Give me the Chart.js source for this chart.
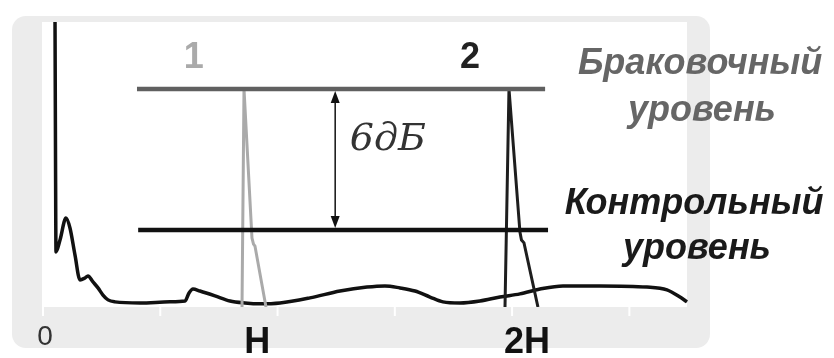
<!DOCTYPE html>
<html>
<head>
<meta charset="utf-8">
<script src="https://cdn.jsdelivr.net/npm/chart.js@4"></script>
<style>
  body { margin: 0; background: #fff; }
</style>
</head>
<body>
<canvas id="scan" width="834" height="358"></canvas>
<script>
// A-scan curve (x: time base units, y: amplitude %)
const scanX = [2.22, 2.30, 2.39, 3.07, 4.09, 4.77, 5.63, 6.48, 7.33, 7.84, 8.70, 9.55, 10.40, 11.26, 12.45,
               16.71, 21.83, 24.39, 25.07, 25.75, 26.94, 29.50, 32.06, 34.62, 37.18, 40.59, 45.70, 50.82,
               55.42, 58.49, 61.05, 63.61, 66.17, 68.38, 71.28, 74.69, 78.10, 81.51, 84.92, 88.85, 95.16,
               103.17, 106.58, 108.80, 110];
const scanY = [100, 55.1, 19.3, 23.5, 31.2, 27.7, 18.2, 9.5, 10.2, 10.9, 8.8, 6.7, 4.2, 2.5, 1.8,
               1.4, 1.8, 2.1, 4.9, 6.3, 5.6, 3.9, 2.1, 1.4, 1.1, 1.4, 3.2, 5.6,
               7.0, 7.4, 6.7, 5.6, 3.5, 1.8, 1.4, 2.1, 3.5, 4.6, 6.3, 7.4, 7.4,
               7.0, 6.0, 3.5, 1.8];

// echo 1 (at H) and echo 2 (at 2H)
const echo1X = [34.11, 34.45, 35.81, 36.07, 36.32, 38.20];
const echo1Y = [0, 76.5, 24.2, 22.1, 21.4, 0];
const echo2X = [78.96, 79.64, 81.51, 81.77, 82.20, 84.58];
const echo2Y = [0, 76.5, 26.3, 23.5, 22.5, 0];

// levels
const rejectLevel = 76.5;
const controlLevel = 27.0;
const rejectSpan = [16.2, 85.8];
const controlSpan = [16.4, 86.3];
const gapX = 50;       // 6 dB arrow position

// bottom tick labels
const tickLabels = ['0', 'H', '2H'];
const tickLabelX = [0.5, 36.7, 82.7];
const gridTicks = [0, 20, 40, 60, 80, 100];

function pts(xs, ys) {
  return xs.map((x, i) => ({ x: x, y: ys[i] }));
}

const panelPlugin = {
  id: 'panel',
  beforeDraw(chart) {
    const c = chart.ctx, a = chart.chartArea;
    c.save();
    c.fillStyle = '#ffffff';
    c.fillRect(0, 0, chart.width, chart.height);
    c.fillStyle = '#ececec';
    c.beginPath();
    c.roundRect(12, 16, 698, 332, 14);
    c.fill();
    c.fillStyle = '#ffffff';
    c.fillRect(a.left, a.top, a.right - a.left, a.bottom - a.top);
    // short white ticks under the baseline
    c.strokeStyle = '#ffffff';
    c.lineWidth = 2;
    gridTicks.forEach(v => {
      const px = chart.scales.x.getPixelForValue(v) + 1;
      c.beginPath();
      c.moveTo(px, a.bottom);
      c.lineTo(px, a.bottom + 9);
      c.stroke();
    });
    c.restore();
  },
  afterDraw(chart) {
    const c = chart.ctx, xs = chart.scales.x, ys = chart.scales.y;
    c.save();
    // double arrow between the levels
    const ax = xs.getPixelForValue(gapX);
    const yTop = ys.getPixelForValue(rejectLevel) + 2;
    const yBot = ys.getPixelForValue(controlLevel) - 2;
    c.strokeStyle = '#111';
    c.fillStyle = '#111';
    c.lineWidth = 1.5;
    c.beginPath();
    c.moveTo(ax, yTop + 8);
    c.lineTo(ax, yBot - 8);
    c.stroke();
    c.beginPath();
    c.moveTo(ax, yTop); c.lineTo(ax - 4.5, yTop + 12); c.lineTo(ax + 4.5, yTop + 12); c.closePath();
    c.fill();
    c.beginPath();
    c.moveTo(ax, yBot); c.lineTo(ax - 4.5, yBot - 12); c.lineTo(ax + 4.5, yBot - 12); c.closePath();
    c.fill();

    // 6 dB label
    c.fillStyle = '#333';
    c.font = 'italic 38px "DejaVu Serif", "Liberation Serif", serif';
    c.textAlign = 'left';
    c.textBaseline = 'middle';
    c.fillText('6дБ', xs.getPixelForValue(52.5), ys.getPixelForValue(58.6));

    // echo numbers
    c.textAlign = 'center';
    c.font = 'bold 36px "Liberation Sans", Arial, sans-serif';
    c.fillStyle = '#aaaaaa';
    c.fillText('1', xs.getPixelForValue(25.9), ys.getPixelForValue(87.4));
    c.fillStyle = '#222';
    c.fillText('2', xs.getPixelForValue(73.0), ys.getPixelForValue(87.4));

    // level names on the right
    c.font = 'italic bold 36px "Liberation Sans", Arial, sans-serif';
    const ry = ys.getPixelForValue(rejectLevel);
    const cy = ys.getPixelForValue(controlLevel);
    c.fillStyle = '#666';
    c.fillText('Браковочный', 700, ry - 25);
    c.fillText('уровень', 702, ry + 22);
    c.fillStyle = '#1a1a1a';
    c.fillText('Контрольный', 694, cy - 26);
    c.fillText('уровень', 697, cy + 19);

    // bottom labels
    c.textBaseline = 'alphabetic';
    tickLabels.forEach((t, i) => {
      const px = xs.getPixelForValue(tickLabelX[i]);
      if (t === '0') {
        c.font = '28px "Liberation Sans", Arial, sans-serif';
        c.fillStyle = '#333';
        c.fillText(t, px, 345);
      } else {
        c.font = 'bold 36px "Liberation Sans", Arial, sans-serif';
        c.fillStyle = '#111';
        c.fillText(t, px, 353);
      }
    });
    c.restore();
  }
};

new Chart(document.getElementById('scan'), {
  type: 'scatter',
  data: {
    datasets: [
      {
        data: pts(rejectSpan, [rejectLevel, rejectLevel]),
        showLine: true, borderColor: '#606060', borderWidth: 4.5, pointRadius: 0
      },
      {
        data: pts(controlSpan, [controlLevel, controlLevel]),
        showLine: true, borderColor: '#111', borderWidth: 4.5, pointRadius: 0
      },
      {
        data: pts(echo2X, echo2Y),
        showLine: true, borderColor: '#1e1e1e', borderWidth: 3, pointRadius: 0
      },
      {
        data: pts(echo1X, echo1Y),
        showLine: true, borderColor: '#aaaaaa', borderWidth: 3, pointRadius: 0
      },
      {
        data: pts(scanX, scanY),
        showLine: true, borderColor: '#111', borderWidth: 3.5, pointRadius: 0,
        cubicInterpolationMode: 'monotone', clip: 5
      }
    ]
  },
  options: {
    responsive: false,
    animation: false,
    devicePixelRatio: 1,
    layout: { padding: { left: 42, top: 22, right: 147, bottom: 51 } },
    plugins: { legend: { display: false }, tooltip: { enabled: false } },
    scales: {
      x: { type: 'linear', min: 0, max: 110, display: false },
      y: { type: 'linear', min: 0, max: 100, display: false }
    }
  },
  plugins: [panelPlugin]
});
</script>
</body>
</html>
